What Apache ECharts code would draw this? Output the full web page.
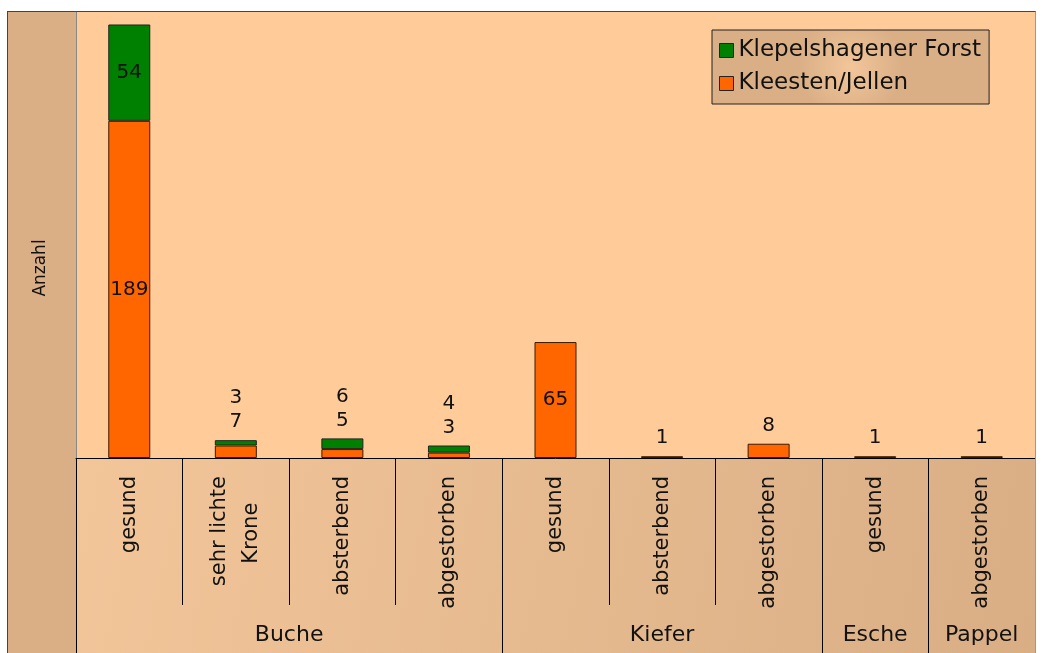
<!DOCTYPE html>
<html>
<head>
<meta charset="utf-8">
<script src="https://cdn.jsdelivr.net/npm/echarts@6/dist/echarts.min.js"></script>
<style>
  html, body { margin: 0; padding: 0; background: #fff; }
  #chart {
    position: absolute; left: 7px; top: 11px;
    width: 1027px; height: 642px;
    background: #DBAF86;
    border-left: 1px solid #444; border-top: 1px solid #444; border-right: 1px solid #999;
  }
</style>
</head>
<body>
<div id="chart"></div>
<script>
// Zustand der Bäume
let categories = ['gesund', 'sehr lichte\nKrone\u00a0\u00a0\u00a0\u00a0', 'absterbend', 'abgestorben',
                  'gesund', 'absterbend', 'abgestorben', 'gesund', 'abgestorben'];
// Baumart, jeweils Anzahl Kategorien
let groups = ['Buche', 'Kiefer', 'Esche', 'Pappel'];
let groupSizes = [4, 3, 1, 1];
let kleesten = [189, 7, 5, 3, 65, 1, 8, 1, 1];
let klepelshagen = [54, 3, 6, 4, 0, 0, 0, 0, 0];

let fontName = 'DejaVu Sans';
let big = 30; // ab dieser Summe Beschriftung im Balken

// zweite Achse in halben Kategorien fuer die Gruppen
let halfSlots = [];
for (let i = 0; i <= categories.length * 2; i++) halfSlots.push('');
let bounds = [0];
let groupCenter = {};
let pos = 0;
groups.forEach(function (g, i) {
  groupCenter[pos * 2 + groupSizes[i]] = g;
  pos += groupSizes[i];
  bounds.push(pos * 2);
});
for (let k in groupCenter) halfSlots[k] = groupCenter[k];

let orangeData = kleesten.map(function (v, i) {
  let total = v + klepelshagen[i];
  if (total > big) return { value: v, label: { show: true, position: 'inside' } };
  if (klepelshagen[i] === 0) return { value: v, label: { show: true, position: 'top', distance: 8 } };
  return v;
});
let greenData = klepelshagen.map(function (v, i) {
  let total = v + kleesten[i];
  if (v === 0) return { value: 0, itemStyle: { borderWidth: 0 } };
  if (total > big) return { value: v, label: { show: true, position: 'inside' } };
  return {
    value: v,
    label: { show: true, position: 'top', distance: 6, lineHeight: 24,
             formatter: v + '\n' + kleesten[i] }
  };
});

let chart = echarts.init(document.getElementById('chart'));
chart.setOption({
  animation: false,
  textStyle: { fontFamily: fontName },
  grid: { left: 68, right: 0, top: 0, bottom: 196, show: true,
          backgroundColor: '#FFCC99', borderWidth: 0 },
  legend: {
    data: ['Klepelshagener Forst', 'Kleesten/Jellen'],
    orient: 'vertical', left: 704, top: 18,
    padding: [9, 8, 9, 7], itemGap: 10,
    backgroundColor: new echarts.graphic.RadialGradient(0.5, 0.5, 0.7, [
      { offset: 0, color: '#F2C699' }, { offset: 1, color: '#DBAF86' }]),
    borderColor: '#222', borderWidth: 1,
    icon: 'rect', itemWidth: 14, itemHeight: 14,
    itemStyle: { borderColor: '#222', borderWidth: 1 },
    textStyle: { fontSize: 23, color: '#111', fontFamily: fontName }
  },
  graphic: [
    { type: 'rect', z: -10, silent: true,
      shape: { x: 68, y: 445, width: 959, height: 196 },
      style: { fill: new echarts.graphic.LinearGradient(0, 0, 1, 1, [
        { offset: 0, color: '#F2C699' }, { offset: 1, color: '#DAAE85' }]) } },
    { type: 'text', x: 33, y: 256, rotation: Math.PI / 2,
      style: { text: 'Anzahl', fontSize: 17, fill: '#111', fontFamily: fontName,
               align: 'center', verticalAlign: 'middle' } }
  ],
  xAxis: [
    {
      type: 'category', data: categories, position: 'bottom',
      axisLine: { lineStyle: { color: '#000', width: 1 } },
      axisTick: { show: true, interval: 0, length: 147, lineStyle: { color: '#000' } },
      axisLabel: { rotate: 90, margin: 18, fontSize: 21, color: '#111', interval: 0,
                   lineHeight: 32 }
    },
    {
      type: 'category', data: halfSlots, position: 'bottom', boundaryGap: false,
      axisLine: { show: false },
      axisTick: { length: 196, lineStyle: { color: '#000' },
                  interval: function (idx) { return bounds.indexOf(idx) >= 0; } },
      axisLabel: { margin: 166, fontSize: 22, color: '#111',
                   interval: function (idx) { return groupCenter[idx] !== undefined; } }
    }
  ],
  yAxis: {
    type: 'value', min: 0, max: 250,
    axisLine: { show: true, lineStyle: { color: '#888' } },
    axisTick: { show: false }, axisLabel: { show: false }, splitLine: { show: false }
  },
  series: [
    {
      name: 'Kleesten/Jellen', type: 'bar', stack: 'a', barWidth: 42,
      data: orangeData,
      itemStyle: { color: '#FF6600', borderColor: '#3a1a00', borderWidth: 1 },
      label: { show: false, fontSize: 20, color: '#111' }
    },
    {
      name: 'Klepelshagener Forst', type: 'bar', stack: 'a', barWidth: 42,
      data: greenData,
      itemStyle: { color: '#008000', borderColor: '#222', borderWidth: 1 },
      label: { show: false, fontSize: 20, color: '#111' }
    }
  ]
});
</script>
</body>
</html>
